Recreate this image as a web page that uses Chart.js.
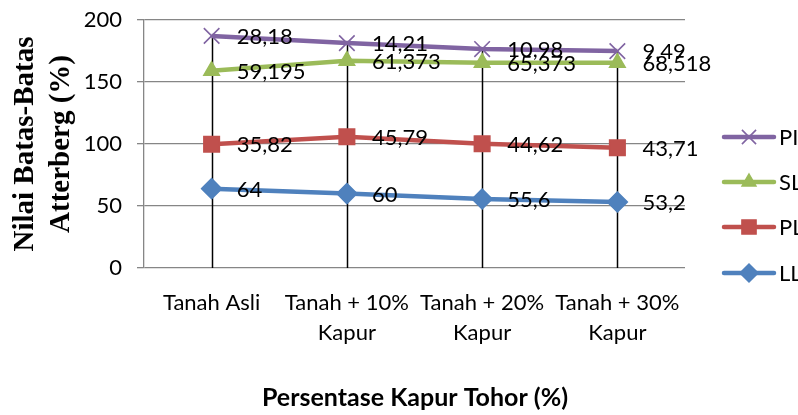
<!DOCTYPE html>
<html lang="en">
<head>
    <meta charset="UTF-8">
    <title>Batas-Batas Atterberg</title>
    <script src="https://cdn.jsdelivr.net/npm/chart.js"></script>
    <style>
        body { margin: 0; background: #fff; }
        #wrap { width: 798px; height: 415px; }
    </style>
</head>
<body>
<div id="wrap"><canvas id="chart" width="798" height="415"></canvas></div>
<script>
    // categories (x axis)
    const categories = [
        ['Tanah Asli'],
        ['Tanah + 10%', 'Kapur'],
        ['Tanah + 20%', 'Kapur'],
        ['Tanah + 30%', 'Kapur']
    ];

    // series values (stacked line chart, as in the Excel original)
    const llValues = [64, 60, 55.6, 53.2];
    const plValues = [35.82, 45.79, 44.62, 43.71];
    const slValues = [59.195, 61.373, 65.373, 68.518];
    const piValues = [28.18, 14.21, 10.98, 9.49];

    // labels shown next to the points (comma decimals)
    const llLabels = ['64', '60', '55,6', '53,2'];
    const plLabels = ['35,82', '45,79', '44,62', '43,71'];
    const slLabels = ['59,195', '61,373', '65,373', '68,518'];
    const piLabels = ['28,18', '14,21', '10,98', '9,49'];

    const yTicks = [0, 50, 100, 150, 200];

    const FONT = 'Lato, "Open Sans", sans-serif';

    const datasets = [
        { label: 'LL', data: llValues, labels: llLabels, borderColor: '#4F81BD', backgroundColor: '#4F81BD',
          pointStyle: 'rectRot', pointRadius: 10 },
        { label: 'PL', data: plValues, labels: plLabels, borderColor: '#C0504D', backgroundColor: '#C0504D',
          pointStyle: 'rect', pointRadius: 11 },
        { label: 'SL', data: slValues, labels: slLabels, borderColor: '#9BBB59', backgroundColor: '#9BBB59',
          pointStyle: 'triangle', pointRadius: 9 },
        { label: 'PI', data: piValues, labels: piLabels, borderColor: '#8064A2', backgroundColor: '#8064A2',
          pointStyle: 'crossRot', pointRadius: 11, pointBorderWidth: 1.6 }
    ].map(d => Object.assign({
        borderWidth: 4.5,
        tension: 0,
        pointBorderWidth: 1.5,
        pointHoverRadius: d.pointRadius,
        fill: false
    }, d));

    // drop lines, data labels, axis titles and legend
    const extras = {
        id: 'extras',
        beforeDatasetsDraw(chart) {
            const ctx = chart.ctx;
            const area = chart.chartArea;
            const top = chart.getDatasetMeta(datasets.length - 1);
            ctx.save();
            ctx.strokeStyle = '#000';
            ctx.lineWidth = 1.5;
            top.data.forEach(pt => {
                ctx.beginPath();
                ctx.moveTo(Math.round(pt.x) + 0.5, pt.y);
                ctx.lineTo(Math.round(pt.x) + 0.5, area.bottom);
                ctx.stroke();
            });
            ctx.restore();
        },
        afterDatasetsDraw(chart) {
            const ctx = chart.ctx;
            const area = chart.chartArea;
            ctx.save();
            // data labels
            ctx.font = '22px ' + FONT;
            ctx.fillStyle = '#000';
            ctx.textAlign = 'left';
            ctx.textBaseline = 'middle';
            datasets.forEach((ds, i) => {
                chart.getDatasetMeta(i).data.forEach((pt, j) => {
                    ctx.fillText(ds.labels[j], pt.x + 25, pt.y + 1);
                });
            });

            // x axis title
            ctx.font = 'bold 25px ' + FONT;
            ctx.textAlign = 'center';
            ctx.fillText('Persentase Kapur Tohor (%)', 415, 398);

            // y axis title
            ctx.save();
            ctx.translate(0, (area.top + area.bottom) / 2);
            ctx.rotate(-Math.PI / 2);
            ctx.font = 'bold 29px "Liberation Serif", "Times New Roman", serif';
            ctx.fillText('Nilai Batas-Batas', 0, 26);
            ctx.fillText('Atterberg (%)', 0, 62);
            ctx.restore();

            // legend (reverse order, like Excel)
            const rows = [137, 182, 227, 273];
            [...datasets].reverse().forEach((ds, k) => {
                const y = rows[k];
                ctx.strokeStyle = ds.borderColor;
                ctx.lineWidth = 4.5;
                ctx.lineCap = 'round';
                ctx.beginPath();
                ctx.moveTo(724, y);
                ctx.lineTo(774, y);
                ctx.stroke();
                ctx.lineCap = 'butt';
                ctx.fillStyle = ds.backgroundColor;
                ctx.strokeStyle = ds.borderColor;
                ctx.lineWidth = ds.pointBorderWidth;
                Chart.helpers.drawPoint(ctx, {
                    pointStyle: ds.pointStyle,
                    radius: ds.pointRadius - 1,
                    borderWidth: ds.pointBorderWidth,
                    rotation: 0
                }, 749, y);
                ctx.fillStyle = '#000';
                ctx.font = '22px ' + FONT;
                ctx.textAlign = 'left';
                ctx.fillText(ds.label, 779, y + 1);
            });
            ctx.restore();
        }
    };

    new Chart(document.getElementById('chart').getContext('2d'), {
        type: 'line',
        data: { labels: categories, datasets: datasets },
        options: {
            responsive: false,
            animation: false,
            events: [],
            layout: { padding: { left: 0, right: 113, top: 20, bottom: 0 } },
            plugins: {
                legend: { display: false },
                tooltip: { enabled: false }
            },
            scales: {
                x: {
                    offset: true,
                    grid: { display: false },
                    border: { display: false },
                    ticks: {
                        color: '#000',
                        font: { family: FONT, size: 22, lineHeight: 1.36 },
                        padding: 12,
                        maxRotation: 0,
                        autoSkip: false
                    },
                    afterFit(scale) {
                        scale.height = 147;
                        scale.paddingLeft = 0;
                        scale.paddingRight = 0;
                    }
                },
                y: {
                    stacked: true,
                    min: 0,
                    max: 200,
                    afterBuildTicks(scale) {
                        scale.ticks = yTicks.map(v => ({ value: v }));
                    },
                    grid: { color: '#868686', lineWidth: 1.3, tickLength: 7 },
                    border: { color: '#868686', width: 1.3 },
                    ticks: {
                        color: '#000',
                        font: { family: FONT, size: 22 },
                        padding: 15
                    },
                    afterFit(scale) {
                        scale.width = 144;
                        scale.paddingTop = 0;
                        scale.paddingBottom = 0;
                    }
                }
            }
        },
        plugins: [extras]
    });
</script>
</body>
</html>
